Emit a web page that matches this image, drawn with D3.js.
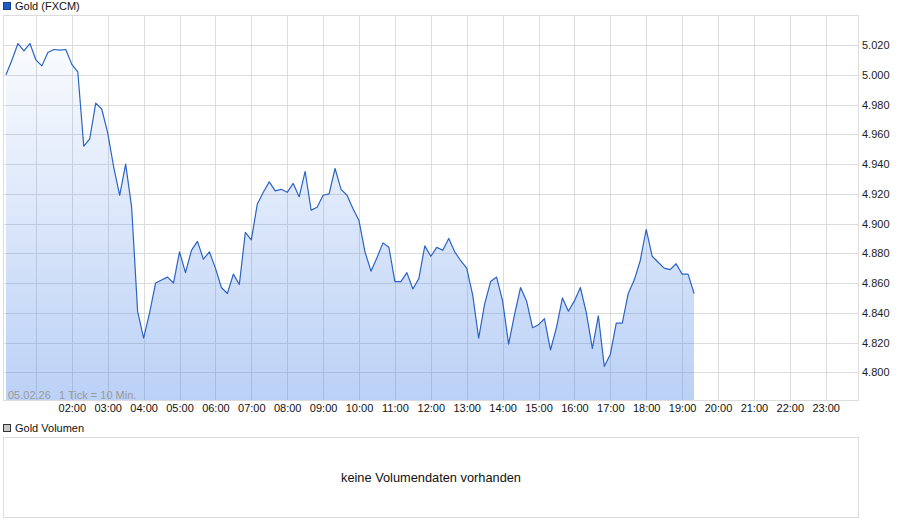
<!DOCTYPE html>
<html>
<head>
<meta charset="utf-8">
<script src="https://cdn.jsdelivr.net/npm/d3@7"></script>
<style>
  html, body { margin: 0; padding: 0; background: #fff; }
  svg { display: block; font-family: "Liberation Sans", Arial, sans-serif; }
</style>
</head>
<body>
<svg id="chart" width="900" height="526"></svg>
<script>
// ---- data ----
const seriesName = "Gold (FXCM)";
const volumeName = "Gold Volumen";
const volumeMessage = "keine Volumendaten vorhanden";
const dateLabel = "05.02.26";
const tickInfo = "1 Tick = 10 Min.";
const startMinute = 10;      // first tick at 00:10
const tickMinutes = 10;      // 1 Tick = 10 Min.
const prices = [
  5.000, 5.010, 5.021, 5.016, 5.021, 5.010, 5.006, 5.015, 5.017, 5.0166,
  5.017, 5.007, 5.002, 4.952, 4.957, 4.981, 4.977, 4.961, 4.938, 4.919,
  4.940, 4.911, 4.841, 4.823, 4.840, 4.860, 4.862, 4.864, 4.860, 4.881,
  4.867, 4.882, 4.888, 4.876, 4.881, 4.870, 4.857, 4.853, 4.866, 4.859,
  4.894, 4.889, 4.913, 4.921, 4.928, 4.922, 4.923, 4.921, 4.927, 4.918,
  4.935, 4.909, 4.911, 4.919, 4.920, 4.937, 4.923, 4.919, 4.910, 4.902,
  4.881, 4.868, 4.877, 4.887, 4.884, 4.861, 4.861, 4.867, 4.856, 4.863,
  4.885, 4.878, 4.884, 4.882, 4.890, 4.881, 4.875, 4.870, 4.852, 4.823,
  4.846, 4.861, 4.864, 4.848, 4.819, 4.839, 4.857, 4.848, 4.830, 4.832,
  4.836, 4.815, 4.830, 4.850, 4.841, 4.848, 4.857, 4.840, 4.816, 4.838,
  4.804, 4.812, 4.833, 4.833, 4.853, 4.862, 4.875, 4.896, 4.878, 4.874,
  4.870, 4.869, 4.873, 4.866, 4.866, 4.853
];
const yTicks = [4.80, 4.82, 4.84, 4.86, 4.88, 4.90, 4.92, 4.94, 4.96, 4.98, 5.00, 5.02];
const gridHours = [1,2,3,4,5,6,7,8,9,10,11,12,13,14,15,16,17,18,19,20,21,22,23];
const xTickLabels = ["02:00","03:00","04:00","05:00","06:00","07:00","08:00","09:00","10:00","11:00","12:00",
                     "13:00","14:00","15:00","16:00","17:00","18:00","19:00","20:00","21:00","22:00","23:00"];

// ---- layout ----
const frame = { left: 3.5, right: 858.5, top: 15.5, bottom: 400.5 };
const svg = d3.select("#chart");

const x = d3.scaleLinear().domain([0, 1440]).range([0, 861.6]);
const y = d3.scaleLinear().domain([4.7807, 5.0402]).range([401, 15]);

const data = prices.map((v, i) => ({ m: startMinute + i * tickMinutes, v }));

const defs = svg.append("defs");
defs.append("clipPath").attr("id", "plotClip")
  .append("rect").attr("x", frame.left).attr("y", frame.top)
  .attr("width", frame.right - frame.left).attr("height", frame.bottom - frame.top);

const grad = defs.append("linearGradient").attr("id", "areaGrad")
  .attr("gradientUnits", "userSpaceOnUse")
  .attr("x1", 0).attr("y1", 15).attr("x2", 0).attr("y2", 401);
grad.append("stop").attr("offset", "0%").attr("stop-color", "rgb(70,130,230)").attr("stop-opacity", 0.0);
grad.append("stop").attr("offset", "100%").attr("stop-color", "rgb(70,130,230)").attr("stop-opacity", 0.37);

// ---- grid ----
const grid = svg.append("g").attr("clip-path", "url(#plotClip)");
grid.selectAll("line.h").data(yTicks).join("line")
  .attr("x1", frame.left).attr("x2", frame.right)
  .attr("y1", d => Math.round(y(d)) + 0.5).attr("y2", d => Math.round(y(d)) + 0.5)
  .attr("stroke", "#dcdcdc").attr("stroke-width", 1);
grid.selectAll("line.v").data(gridHours).join("line")
  .attr("y1", frame.top).attr("y2", frame.bottom)
  .attr("x1", d => Math.round(x(d * 60)) + 0.5).attr("x2", d => Math.round(x(d * 60)) + 0.5)
  .attr("stroke", "#dcdcdc").attr("stroke-width", 1);

// ---- area + line ----
const plot = svg.append("g").attr("clip-path", "url(#plotClip)");
plot.append("path").datum(data)
  .attr("fill", "url(#areaGrad)")
  .attr("d", d3.area().x(d => x(d.m)).y0(frame.bottom + 1).y1(d => y(d.v)));
plot.append("path").datum(data)
  .attr("fill", "none").attr("stroke", "#2b63c6").attr("stroke-width", 1.2)
  .attr("stroke-linejoin", "round")
  .attr("d", d3.line().x(d => x(d.m)).y(d => y(d.v)));

// frame
svg.append("rect").attr("x", frame.left).attr("y", frame.top)
  .attr("width", frame.right - frame.left).attr("height", frame.bottom - frame.top)
  .attr("fill", "none").attr("stroke", "#dcdcdc");

// ---- axes labels ----
const yAxis = d3.axisRight(y).tickValues(yTicks).tickSize(0).tickPadding(0)
  .tickFormat(d => d3.format(".3f")(d).replace(".", "."));
const ya = svg.append("g").attr("transform", `translate(862,0)`).call(yAxis);
ya.select(".domain").remove();
ya.selectAll("text").attr("font-size", 11).attr("fill", "#222").attr("font-family", "Liberation Sans, Arial, sans-serif");

const xAxis = d3.axisBottom(x)
  .tickValues(xTickLabels.map(s => +s.slice(0, 2) * 60))
  .tickFormat((d, i) => xTickLabels[i]).tickSize(0).tickPadding(0);
const xa = svg.append("g").attr("transform", `translate(0,404)`).call(xAxis);
xa.select(".domain").remove();
xa.selectAll("text").attr("font-size", 11).attr("fill", "#111").attr("font-family", "Liberation Sans, Arial, sans-serif");

// info text
svg.append("text").attr("x", 8).attr("y", 399).attr("font-size", 11).attr("fill", "#9a9a9a").text(dateLabel);
svg.append("text").attr("x", 59).attr("y", 399).attr("font-size", 11).attr("fill", "#9a9a9a").text(tickInfo);

// ---- legend ----
svg.append("rect").attr("x", 3.5).attr("y", 2.5).attr("width", 7).attr("height", 7)
  .attr("fill", "#1f5bc4").attr("stroke", "#173f85");
svg.append("text").attr("x", 15).attr("y", 10).attr("font-size", 11).attr("fill", "#111").text(seriesName);

// ---- volume panel ----
svg.append("rect").attr("x", 3.5).attr("y", 424.5).attr("width", 7).attr("height", 7)
  .attr("fill", "#c8c8c8").attr("stroke", "#333");
svg.append("text").attr("x", 15).attr("y", 432).attr("font-size", 11).attr("fill", "#111").text(volumeName);
svg.append("rect").attr("x", 3.5).attr("y", 437.5).attr("width", 855).attr("height", 80)
  .attr("fill", "none").attr("stroke", "#dcdcdc");
svg.append("text").attr("x", 431).attr("y", 482).attr("text-anchor", "middle")
  .attr("font-size", 12.8).attr("fill", "#111").text(volumeMessage);
</script>
</body>
</html>
